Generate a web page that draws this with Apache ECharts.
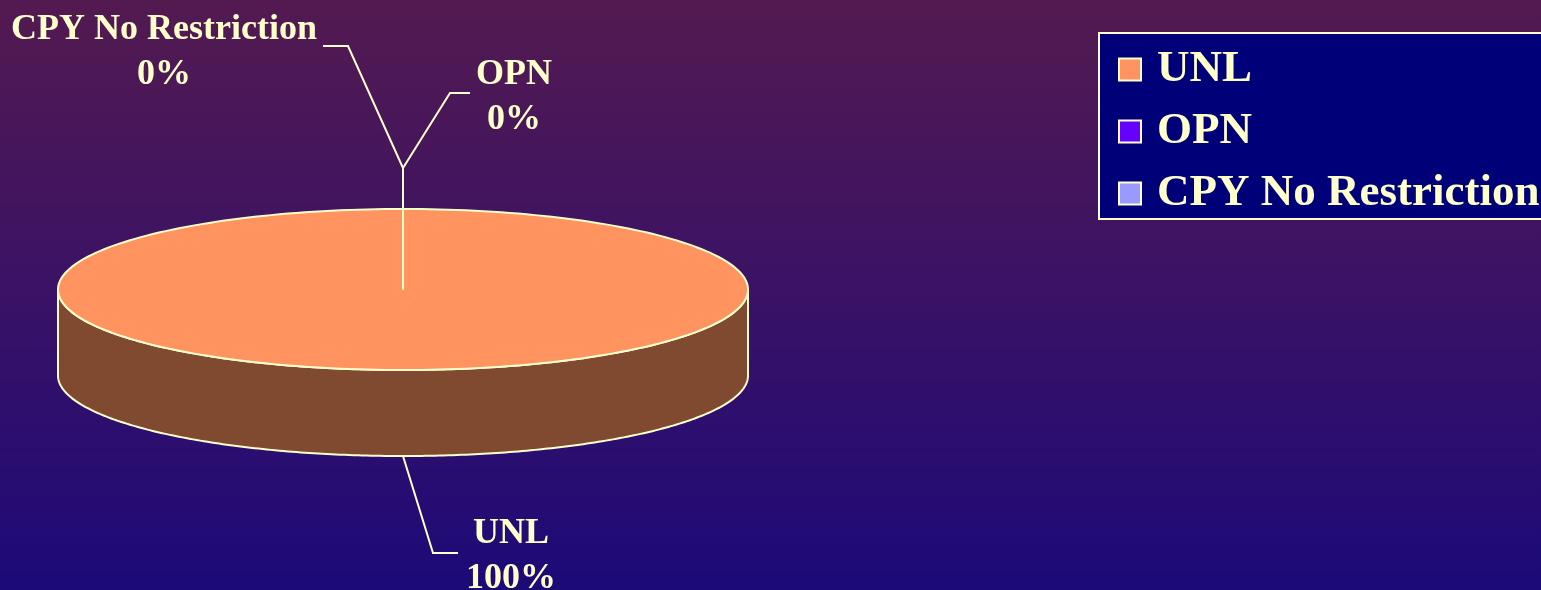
<!DOCTYPE html>
<html>
<head>
<meta charset="utf-8">
<script src="https://cdn.jsdelivr.net/npm/echarts@6/dist/echarts.min.js"></script>
<style>
html,body{margin:0;padding:0;width:1541px;height:590px;overflow:hidden;}
#chart{width:1541px;height:590px;}
</style>
</head>
<body>
<div id="chart"></div>
<script>
// ---- data ----
const categories = ['UNL', 'OPN', 'CPY No Restriction'];
const values = [100, 0, 0];
const percentLabels = ['100%', '0%', '0%'];

// ---- styles / layout (not data) ----
const topColors = ['#ff9460', '#6600ff', '#9999ff'];
const sideColors = ['#7f4a2f', '#33007f', '#4c4c7f'];
const cream = '#ffffcc';
const FONT = '"Liberation Serif", "Times New Roman", serif';
const pieGeom = { cx: 403, cy: 289.5, rx: 345, ry: 80.5, depth: 86 };
// label elbows and text positions for leader lines
const labelLayout = [
  { elbow: [433, 553], end: [458, 553], text: [511, 556], align: 'center' },
  { elbow: [403, 168, 450, 93], end: [470, 93], text: [514, 97], align: 'center' },
  { elbow: [403, 168, 348, 46], end: [323, 46], text: [164, 52], align: 'center' }
];

const total = values.reduce((a, b) => a + b, 0);
const starts = [];
(function () { let acc = 0; values.forEach(v => { starts.push(acc); acc += v; }); })();

function pt(theta, dy) {
  const g = pieGeom;
  return [g.cx + g.rx * Math.sin(theta), g.cy - g.ry * Math.cos(theta) + (dy || 0)];
}

function makeRender(idx) {
  return function (params, api) {
    const v = api.value(0);
    const a0 = starts[idx] / total * Math.PI * 2;
    const a1 = (starts[idx] + v) / total * Math.PI * 2;
    const g = pieGeom;
    const children = [];
    const N = 240;
    if (v > 0) {
      const s0 = Math.max(a0, Math.PI / 2), s1 = Math.min(a1, Math.PI * 1.5);
      if (s1 > s0) {
        const upper = [], lower = [];
        for (let i = 0; i <= N; i++) {
          const t = s0 + (s1 - s0) * i / N;
          upper.push(pt(t, 0));
          lower.push(pt(t, g.depth));
        }
        children.push({
          type: 'polygon', shape: { points: upper.concat(lower.reverse()) },
          style: { fill: sideColors[idx], stroke: cream, lineWidth: 2 }
        });
      }
      const pts = [];
      const full = (a1 - a0) >= Math.PI * 2 - 1e-9;
      if (!full) pts.push([g.cx, g.cy]);
      for (let i = 0; i <= N; i++) pts.push(pt(a0 + (a1 - a0) * i / N, 0));
      children.push({
        type: 'polygon', shape: { points: pts },
        style: { fill: topColors[idx], stroke: cream, lineWidth: 2 }
      });
    }
    let anchor;
    if (v > 0) {
      const mid = (a0 + a1) / 2;
      const front = Math.cos(mid) < 0;
      anchor = pt(mid, front ? g.depth : 0);
      if ((a1 - a0) >= Math.PI * 2 - 1e-9) anchor = pt(Math.PI, g.depth);
    } else {
      anchor = [g.cx, g.cy];
    }
    const L = labelLayout[idx];
    const linePts = [anchor];
    for (let i = 0; i < L.elbow.length; i += 2) linePts.push([L.elbow[i], L.elbow[i + 1]]);
    linePts.push(L.end);
    children.push({
      type: 'polyline', shape: { points: linePts },
      style: { stroke: cream, lineWidth: 2, fill: null }, z2: 10
    });
    children.push({
      type: 'text', z2: 11,
      style: {
        x: L.text[0], y: L.text[1],
        text: categories[idx] + '\n' + percentLabels[idx],
        fill: cream, font: 'bold 36px ' + FONT,
        align: L.align, verticalAlign: 'middle', lineHeight: 45
      }
    });
    return { type: 'group', children: children };
  };
}

const series = categories.map((name, i) => ({
  type: 'custom', name: name, coordinateSystem: 'none',
  renderItem: makeRender(i),
  data: [[values[i]]],
  itemStyle: { color: topColors[i] },
  z: i === 0 ? 2 : 3,
  silent: true, animation: false
}));

const chart = echarts.init(document.getElementById('chart'), null, { renderer: 'canvas' });
chart.setOption({
  animation: false,
  backgroundColor: {
    type: 'linear', x: 0, y: 0, x2: 0, y2: 1,
    colorStops: [
      { offset: 0, color: '#531a50' },
      { offset: 0.5, color: '#3a1266' },
      { offset: 1, color: '#1c0a78' }
    ]
  },
  legend: {
    data: categories,
    orient: 'vertical',
    left: 1099, top: 33,
    backgroundColor: '#000078',
    borderColor: cream, borderWidth: 2,
    padding: [14, 20, 3, 19],
    icon: 'rect',
    itemWidth: 22, itemHeight: 22,
    itemGap: 17,
    itemStyle: { borderColor: cream, borderWidth: 2 },
    selectedMode: false,
    textStyle: {
      color: cream, fontSize: 45, fontWeight: 'bold', fontFamily: FONT,
      lineHeight: 44, padding: [0, 0, 0, 11]
    }
  },
  series: series
});
</script>
</body>
</html>
